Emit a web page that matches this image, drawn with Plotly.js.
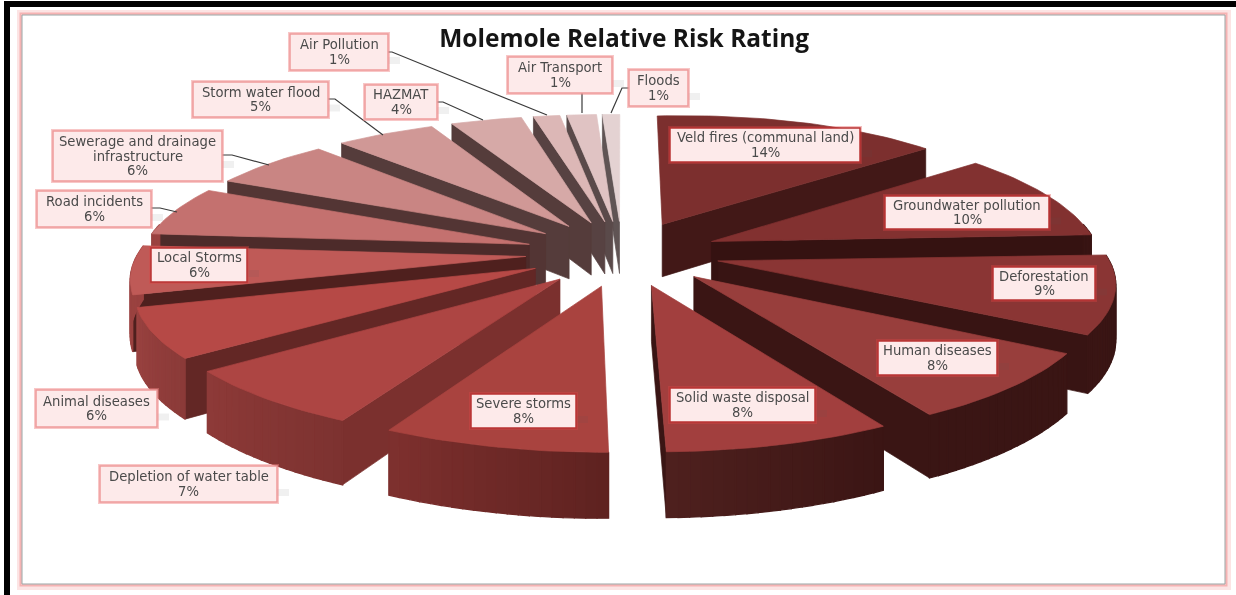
<!DOCTYPE html>
<html><head><meta charset="utf-8">
<script src="https://cdn.plot.ly/plotly-3.0.1.min.js"></script>
<style>html,body{margin:0;padding:0;background:#fff}#c{width:1236px;height:595px;filter:blur(0.5px)}</style>
</head><body><div id="c"></div>
<script>
// ---- data ----
const categories = ["Veld fires (communal land)","Groundwater pollution","Deforestation","Human diseases","Solid waste disposal","Severe storms","Depletion of water table","Animal diseases","Local Storms","Road incidents","Sewerage and drainage<br>infrastructure","Storm water flood","HAZMAT","Air Pollution","Air Transport","Floods"];
const shares = [14,10,9,8,8,8,7,6,6,6,6,4.9,3.5,1.3,1.45,0.85];
// ---- styles ----
const topColors = ["#7c2f2e","#823130","#8a3534","#983e3c","#a23f3e","#a9433f","#ad4543","#b64946","#bf5a57","#c4716f","#c98583","#d09896","#d6a9a7","#dcb7b6","#e0c3c3","#e4d2d2"];
const sideColors = ["#421817","#351211","#381413","#3a1514","#3a1514","#7b302e","#7b302e","#632725","#4f201e","#4d2b2a","#533534","#553c3b","#553c3b","#574242","#5a4a4a","#605454"];
const rimStart = ["#421817","#381413","#381413","#3a1514","#3a1514","#5e2220","#7c3230","#8a3a38","#9a4240","#9a4240","#533534","#553c3b","#553c3b","#574242","#5a4a4a","#605454"];
const rimEnd   = ["#381413","#381413","#3a1514","#3a1514","#4f201e","#7e302e","#8e3a38","#9a4240","#9a4240","#9a4240","#533534","#553c3b","#553c3b","#574242","#5a4a4a","#605454"];
const labelBoxes = [[670,860,128,162],[885,1049,196,229],[993,1095,267,300],[878,997,341,375],[670,815,388,422],[471,576,394,428],[100,277,466,502],[36,157,390,427],[151,247,248,282],[37,151,191,227],[53,222,131,181],[193,328,82,117],[365,437,85,119],[290,388,34,70],[508,612,57,93],[629,688,70,106]];
const insideLabel = [1,1,1,1,1,1,0,0,1,0,0,0,0,0,0,0];
const leaders = [
 [[388,392,547],[52,52,115]],[[328,335,383],[99,99,135]],[[437,443,483],[102,102,120]],
 [[222,232,269],[155,155,165]],[[151,160,177],[208,208,212]],[[582,582],[93,113]],[[629,622,611],[88,88,113]]
];
// ---- view of the tilted disc ----
const view = {cx:622, cy:253, A:390, Aleft:386, B:131, k:0.146, D:54, explode:0.25, shear:15, leftShear:0.75, skew:8, rollA:2.5, rollB:5, rollBack:8};
const rad = d => d*Math.PI/180;
function project(u,v,z){
  const s=1/(1-view.k*v), vf=Math.max(v,0);
  const sh=view.shear*(1+Math.max(Math.min(u*4,0),-1)*(1-view.leftShear))*Math.pow(vf,1.5);
  const a=u<0?view.Aleft:view.A;
  return [view.cx+a*u*s-sh-view.skew*Math.max(u,0)*vf*vf,
          view.cy+view.B*v*s+z*view.D*s+u*(view.rollA+view.rollB*vf)+view.rollBack*Math.max(u,0)*Math.min(v,0)];
}
function hex2(c){return [1,3,5].map(i=>parseInt(c.substr(i,2),16));}
function mix(a,b,t){const A=hex2(a),B=hex2(b);return 'rgb('+A.map((x,i)=>Math.round(x+(B[i]-x)*t)).join(',')+')';}

const total = shares.reduce((a,b)=>a+b,0);
let acc=0;
const slices = shares.map((p,i)=>{const a=acc/total*360; acc+=p; const b=acc/total*360; return {i,a,b,m:(a+b)/2};});
const traces=[];
function poly(pts,color,w){
  const xs=pts.map(p=>p[0]),ys=pts.map(p=>p[1]);
  xs.push(xs[0]);ys.push(ys[0]);
  traces.push({type:'scatter',mode:'lines',x:xs,y:ys,fill:'toself',fillcolor:color,line:{color:color,width:w||0.7},hoverinfo:'skip',showlegend:false});
}
slices.slice().sort((p,q)=>Math.cos(rad(q.m))-Math.cos(rad(p.m))).forEach(sl=>{
  const ou=view.explode*Math.sin(rad(sl.m)), ov=-view.explode*Math.cos(rad(sl.m));
  const P=(ang,r,z)=>project(ou+r*Math.sin(rad(ang)),ov-r*Math.cos(rad(ang)),z);
  const wall=(ang,col)=>poly([P(ang,0,0),P(ang,1,0),P(ang,1,1),P(ang,0,1)],col);
  if(Math.sin(rad(sl.a))<0) wall(sl.a,sideColors[sl.i]);
  if(Math.sin(rad(sl.b))>0) wall(sl.b,sideColors[sl.i]);
  const step=1.5, n=Math.max(1,Math.ceil((sl.b-sl.a)/step));
  for(let j=0;j<n;j++){
    const a0=sl.a+(sl.b-sl.a)*j/n,a1=sl.a+(sl.b-sl.a)*(j+1)/n;
    if(Math.cos(rad((a0+a1)/2))<0.15){
      poly([P(a0,1,0),P(a1,1,0),P(a1,1,1),P(a0,1,1)],mix(rimStart[sl.i],rimEnd[sl.i],(j+.5)/n),1.3);
    }
  }
  const topPts=[P(sl.a,0,0)];
  for(let j=0;j<=n;j++) topPts.push(P(sl.a+(sl.b-sl.a)*j/n,1,0));
  poly(topPts,topColors[sl.i]);
});

// ---- chrome: frame, leaders, label boxes ----
const shapes=[
 {type:'rect',layer:'below',x0:4,x1:10,y0:1,y1:595,fillcolor:'#000',line:{width:0}},
 {type:'rect',layer:'below',x0:4,x1:1236,y0:1,y1:7,fillcolor:'#000',line:{width:0}},
 {type:'rect',layer:'below',x0:20,x1:1228,y0:13,y1:587,fillcolor:'#fff',line:{color:'rgba(240,130,130,0.22)',width:6}},
 {type:'rect',layer:'below',x0:21,x1:1226,y0:14,y1:585,fillcolor:'#fff',line:{color:'rgba(240,130,130,0.5)',width:3}},
 {type:'rect',layer:'below',x0:22,x1:1225,y0:15,y1:584,fillcolor:'#fff',line:{color:'#9aa5a5',width:1}}
];
leaders.forEach(l=>traces.push({type:'scatter',mode:'lines',x:l[0],y:l[1],line:{color:'#3a3a3a',width:1.2},hoverinfo:'skip',showlegend:false}));
const annotations=[];
const lineGap=14.5;
labelBoxes.forEach((b,i)=>{
  const inside=insideLabel[i];
  shapes.push({type:'rect',layer:'above',x0:b[1],x1:b[1]+12,y0:(b[2]+b[3])/2+5,y1:(b[2]+b[3])/2+12,fillcolor:'rgba(90,90,90,0.09)',line:{width:0}});
  shapes.push({type:'rect',layer:'above',x0:b[0],x1:b[1],y0:b[2],y1:b[3],fillcolor:'rgba(0,0,0,0)',line:{color:inside?'rgba(220,70,70,0.35)':'rgba(240,130,130,0.45)',width:4}});
  shapes.push({type:'rect',layer:'above',x0:b[0],x1:b[1],y0:b[2],y1:b[3],fillcolor:'#fdeaea',line:{color:inside?'#b93333':'#ee9c9c',width:1.5}});
  const lines=categories[i].split('<br>').concat([Math.round(shares[i])+'%']);
  lines.forEach((t,j)=>annotations.push({xref:'x',yref:'y',x:(b[0]+b[1])/2,y:(b[2]+b[3])/2+(j-(lines.length-1)/2)*lineGap,xanchor:'center',yanchor:'middle',showarrow:false,
    text:t,font:{family:'"DejaVu Sans",sans-serif',size:13.2,color:'#4a4a4a'}}));
});
Plotly.newPlot('c',traces,{
  width:1236,height:595,margin:{l:0,r:0,t:0,b:0},paper_bgcolor:'#fff',plot_bgcolor:'#fff',showlegend:false,
  title:{text:'<b>Molemole Relative Risk Rating</b>',x:0.505,xanchor:'center',y:0.936,yanchor:'middle',font:{family:'"Open Sans",sans-serif',size:24.5,color:'#151515'}},
  xaxis:{range:[0,1236],visible:false,fixedrange:true},
  yaxis:{range:[595,0],visible:false,fixedrange:true},
  shapes,annotations
},{displayModeBar:false,staticPlot:true});
</script></body></html>
